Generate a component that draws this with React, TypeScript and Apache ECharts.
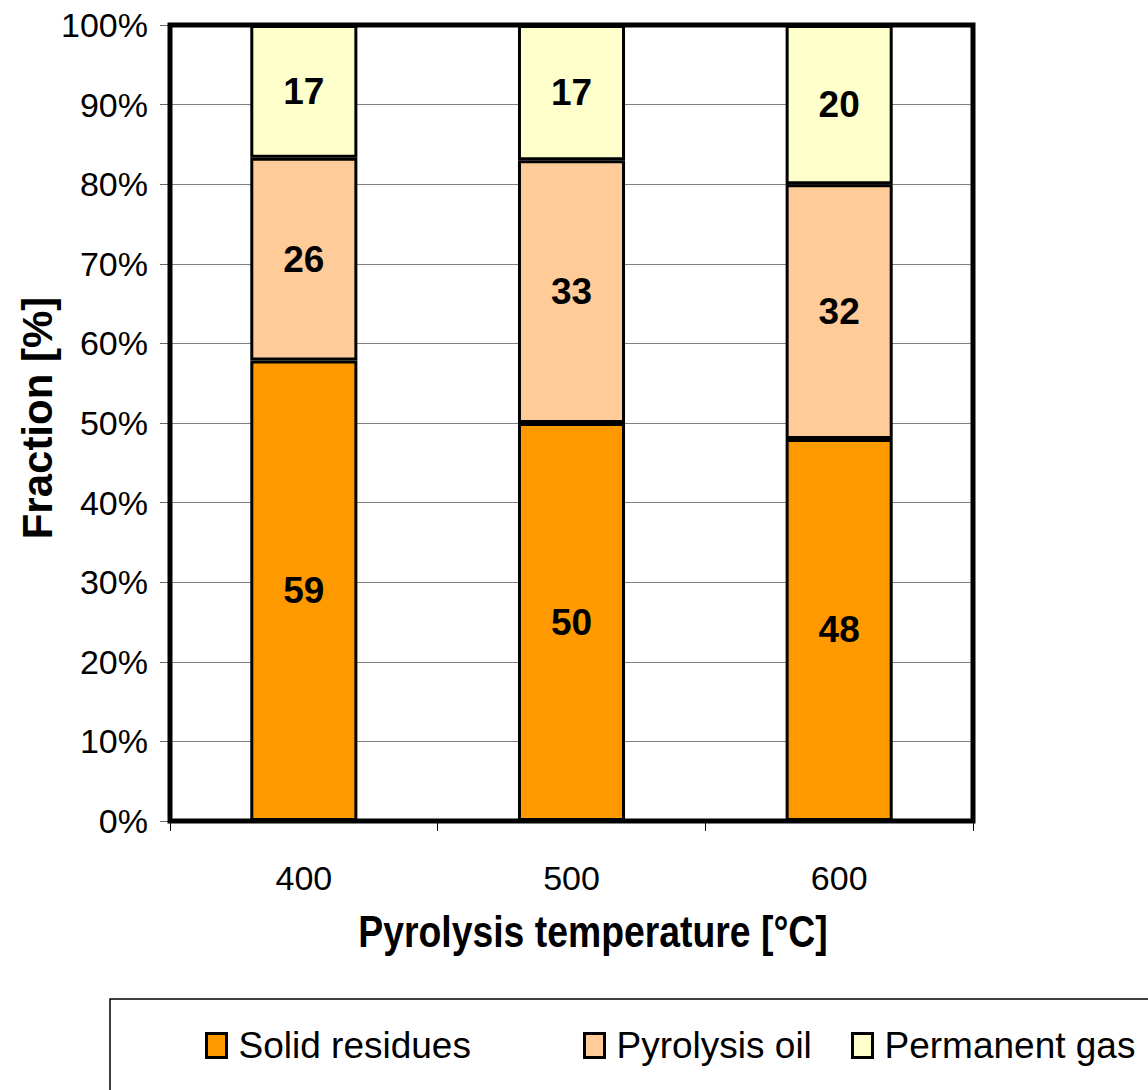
import React, { useEffect, useRef } from "react";
import * as echarts from "echarts";

const categories = ["400", "500", "600"];
const seriesNames = ["Solid residues", "Pyrolysis oil", "Permanent gas"];
const solidResidues = [59, 50, 48];
const pyrolysisOil = [26, 33, 32];
const permanentGas = [17, 17, 20];
const yTicks = [0, 10, 20, 30, 40, 50, 60, 70, 80, 90, 100];
const colors = ["#FF9900", "#FFCC99", "#FFFFCC"];

const FONT = "'Liberation Sans', Arial, sans-serif";

export default function App() {
  const ref = useRef<HTMLDivElement>(null);
  useEffect(() => {
    if (!ref.current) return;
    const chart = echarts.init(ref.current, undefined, { renderer: "svg" });
    const raw = [solidResidues, pyrolysisOil, permanentGas];
    const totals = categories.map((_, i) => raw.reduce((s, r) => s + r[i], 0));
    const pct = raw.map((r) => r.map((v, i) => (v / totals[i]) * 100));

    const gridLeft = 170, gridTop = 25, gridRight = 175, gridBottom = 269;
    const W = 1148, H = 1090;

    const series = raw.map((r, si) => ({
      name: seriesNames[si],
      type: "bar",
      stack: "total",
      barWidth: "40%",
      data: pct[si],
      itemStyle: { color: colors[si], borderColor: "#000", borderWidth: 3 },
      label: {
        show: true,
        position: "inside",
        formatter: (p: any) => String(r[p.dataIndex]),
        fontFamily: FONT,
        fontWeight: "bold",
        fontSize: 37,
        color: "#000",
      },
    }));

    const legendLefts = [200, 578, 846];
    const legends = seriesNames.map((n, i) => ({
      data: [n],
      left: legendLefts[i],
      top: 1022,
      orient: "horizontal",
      icon: "rect",
      itemWidth: 20,
      itemHeight: 24,
      itemStyle: { borderColor: "#000", borderWidth: 3 },
      textStyle: { fontFamily: FONT, fontSize: 37, color: "#000", padding: [0, 0, 0, 7] },
      selectedMode: false,
    }));

    chart.setOption({
      animation: false,
      backgroundColor: "#fff",
      grid: { left: gridLeft, top: gridTop, right: gridRight, bottom: gridBottom },
      legend: legends,
      xAxis: {
        type: "category",
        data: categories,
        axisLine: { show: true, lineStyle: { color: "#000", width: 1 } },
        axisTick: { show: true, length: 10, lineStyle: { color: "#000" } },
        axisLabel: { fontFamily: FONT, fontSize: 34, color: "#000", margin: 40 },
      },
      yAxis: {
        type: "value",
        min: yTicks[0],
        max: yTicks[yTicks.length - 1],
        interval: 10,
        axisLine: { show: false },
        axisTick: { show: true, length: 10, lineStyle: { color: "#666" } },
        axisLabel: { fontFamily: FONT, fontSize: 34, color: "#000", margin: 22, formatter: "{value}%" },
        splitLine: { show: true, lineStyle: { color: "#808080", width: 1 } },
      },
      graphic: [
        {
          type: "rect",
          z: 100,
          shape: { x: gridLeft, y: gridTop, width: W - gridLeft - gridRight, height: H - gridTop - gridBottom },
          style: { fill: "none", stroke: "#000", lineWidth: 5 },
        },
        {
          type: "rect",
          z: 1,
          shape: { x: 110, y: 999, width: 1100, height: 200 },
          style: { fill: "none", stroke: "#000", lineWidth: 1.5 },
        },
        {
          type: "text",
          x: 593,
          y: 932,
          scaleX: 0.83,
          style: {
            text: "Pyrolysis temperature [°C]",
            textAlign: "center",
            textVerticalAlign: "middle",
            fontFamily: FONT,
            fontWeight: "bold",
            fontSize: 45,
            fill: "#000",
          },
        },
        {
          type: "text",
          x: 37,
          y: 418,
          rotation: Math.PI / 2,
          style: {
            text: "Fraction [%]",
            textAlign: "center",
            textVerticalAlign: "middle",
            fontFamily: FONT,
            fontWeight: "bold",
            fontSize: 42,
            fill: "#000",
          },
        },
      ],
      series,
    });
    return () => chart.dispose();
  }, []);
  return <div ref={ref} style={{ position: "fixed", left: 0, top: 0, width: 1148, height: 1090 }} />;
}
